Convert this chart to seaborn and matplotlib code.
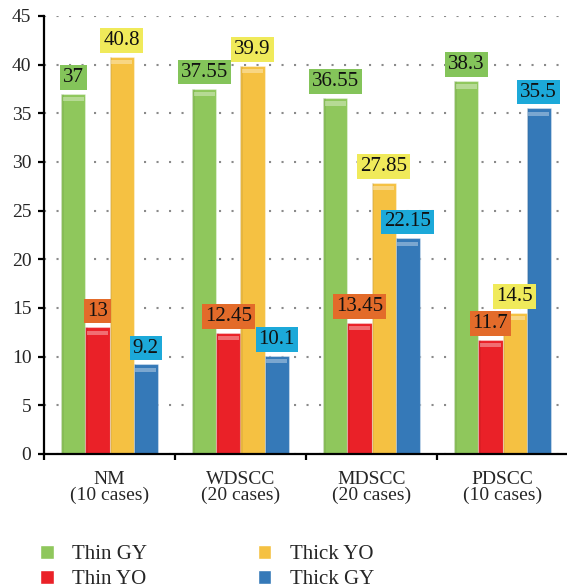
import matplotlib
matplotlib.use("Agg")
import matplotlib.pyplot as plt
from matplotlib.patches import Rectangle
from matplotlib.ticker import MultipleLocator, FixedLocator
import numpy as np
import pandas as pd
import seaborn as sns

# Groups and their case counts
groups = ["NM", "WDSCC", "MDSCC", "PDSCC"]
case_counts = ["(10 cases)", "(20 cases)", "(20 cases)", "(10 cases)"]

# Series values per group
series_names = ["Thin GY", "Thin YO", "Thick YO", "Thick GY"]
thin_gy = [37, 37.55, 36.55, 38.3]
thin_yo = [13, 12.45, 13.45, 11.7]
thick_yo = [40.8, 39.9, 27.85, 14.5]
thick_gy = [9.2, 10.1, 22.15, 35.5]

bar_colors = ["#8fc75c", "#ea2128", "#f5c142", "#3579b8"]
label_colors = ["#84c45a", "#e36b2a", "#f0ea5a", "#1ca9d9"]

df = pd.DataFrame({
    "group": groups * 4,
    "series": np.repeat(series_names, len(groups)),
    "value": thin_gy + thin_yo + thick_yo + thick_gy,
})

sns.set_style("ticks")
plt.rcParams["font.family"] = "serif"
plt.rcParams["font.serif"] = ["Liberation Serif", "DejaVu Serif"]

fig = plt.figure(figsize=(5.67, 5.88), dpi=100)
ax = fig.add_axes([44 / 567, 1 - 454 / 588, 524 / 567, 438 / 588])

sns.barplot(data=df, x="group", y="value", hue="series", order=groups,
            hue_order=series_names, palette=bar_colors, width=0.735,
            dodge=True, saturation=1, errorbar=None, ax=ax, zorder=2)

# Glossy finish on every bar: soft edges and a light cap near the top
for container in ax.containers:
    for bar in container:
        bar.set_edgecolor((1, 1, 1, 0.35))
        bar.set_linewidth(0.8)
        x0, w, h = bar.get_x(), bar.get_width(), bar.get_height()
        ax.add_patch(Rectangle((x0, 0), w * 0.12, h, facecolor=(0, 0, 0, 0.06),
                               edgecolor="none", zorder=2.1))
        ax.add_patch(Rectangle((x0 + w * 0.08, h - 0.75), w * 0.84, 0.42,
                               facecolor=(1, 1, 1, 0.35), edgecolor="none",
                               zorder=2.2))

# Value labels on coloured boxes
for container, lc in zip(ax.containers, label_colors):
    ax.bar_label(container, fmt="{:g}", padding=5, fontsize=15,
                 color="#111111", zorder=5, family="serif",
                 bbox=dict(boxstyle="square,pad=0.14", facecolor=lc,
                           edgecolor="none"))

ax.set_ylim(0, 45)
ax.set_xlim(-0.5, 3.5)
ax.yaxis.set_major_locator(MultipleLocator(5))
ax.set_xticks(range(len(groups)))
ax.set_xticklabels([f"{g}\n{c}" for g, c in zip(groups, case_counts)],
                   fontsize=14, linespacing=0.9, family="serif")
for lbl in ax.get_yticklabels():
    lbl.set_family("serif")
ax.xaxis.set_minor_locator(FixedLocator([-0.5, 0.5, 1.5, 2.5]))
ax.tick_params(axis="x", which="major", length=0, pad=12)
ax.tick_params(axis="x", which="minor", length=4, width=1.6, direction="out",
               color="black")
ax.tick_params(axis="y", length=4, width=1.6, direction="out", pad=5,
               labelsize=14, color="black")
ax.set_xlabel("")
ax.set_ylabel("")

for side in ["top", "right"]:
    ax.spines[side].set_visible(False)
for side in ["left", "bottom"]:
    ax.spines[side].set_color("black")
    ax.spines[side].set_linewidth(1.6)

ax.set_axisbelow(True)
ax.yaxis.grid(True, linestyle=(0, (1, 5)), color="#8a8a8a", linewidth=1.5)
ax.xaxis.grid(False)

sns.move_legend(ax, loc="upper left", bbox_to_anchor=(40 / 567, 1 - 545 / 588),
                bbox_transform=fig.transFigure, ncol=2, frameon=False,
                title=None, prop={"family": "serif", "size": 15},
                handlelength=0.65, handleheight=0.65, handletextpad=0.9,
                columnspacing=5.3, labelspacing=0.28, borderpad=0,
                borderaxespad=0)

fig.savefig("out.png", dpi=100)
